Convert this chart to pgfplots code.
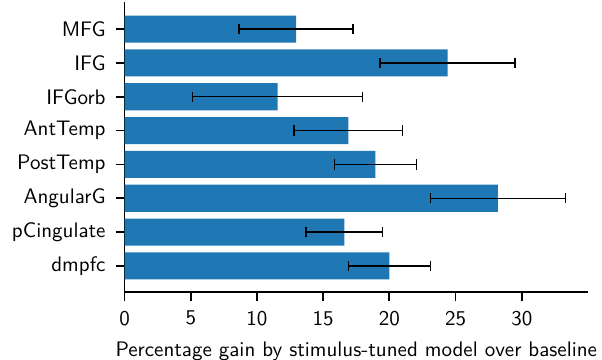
\documentclass[border=0pt]{standalone}
\usepackage{pgfplots}
\pgfplotsset{compat=1.18}
\renewcommand{\familydefault}{\sfdefault}
\definecolor{tabblue}{HTML}{1F77B4}

\begin{document}
\begin{tikzpicture}
  \path[use as bounding box] (-62.3pt,-34pt) rectangle (238.7pt,146pt);
  \begin{axis}[
      at={(0,0)}, anchor=south west,
      scale only axis,
      width=231.7pt, height=145pt,
      xbar, bar width=0.8,
      xmin=0, xmax=35,
      ymin=-0.77, ymax=7.8,
      axis lines=left,
      axis line style={-, line width=0.9pt},
      tick align=outside,
      major tick length=4.5pt,
      tick style={line width=0.9pt, black},
      xtick={0,5,...,30},
      ytick={0,...,7},
      yticklabels={dmpfc, pCingulate, AngularG, PostTemp, AntTemp, IFGorb, IFG, MFG},
      /pgf/number format/assume math mode=true,
      tick label style={font=\sffamily\fontsize{10.5}{12}\selectfont},
      xticklabel style={yshift=-1.5pt},
      yticklabel style={xshift=-1.5pt},
      label style={font=\sffamily\fontsize{10.5}{12}\selectfont},
      xlabel style={yshift=-1.2pt},
      xlabel={Percentage gain by stimulus-tuned model over baseline},
      clip=false,
    ]
    % mean gain with error bars
    \addplot[fill=tabblue, draw=none,
             error bars/.cd, x dir=both, x explicit,
             error mark=|,
             error bar style={line width=0.7pt, black},
             error mark options={line width=0.7pt, black, mark size=2.6pt}]
      coordinates {
        (20.0,0) +- (3.1,0)
        (16.6,1) +- (2.9,0)
        (28.2,2) +- (5.1,0)
        (18.95,3) +- (3.1,0)
        (16.9,4) +- (4.1,0)
        (11.55,5) +- (6.4,0)
        (24.4,6) +- (5.1,0)
        (12.95,7) +- (4.3,0)
      };
  \end{axis}
\end{tikzpicture}
\end{document}
